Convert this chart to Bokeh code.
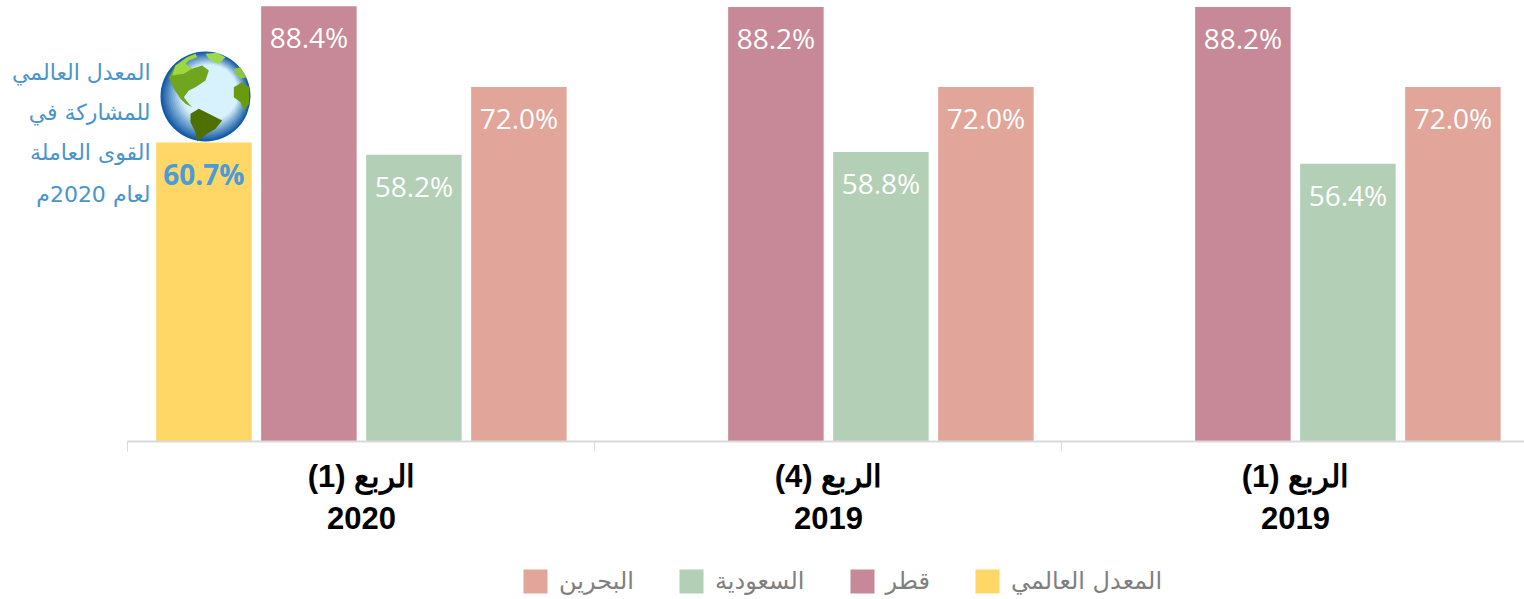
from bokeh.plotting import figure
from bokeh.embed import file_html
from bokeh.resources import INLINE
from bokeh.models import ColumnDataSource, Range1d, FixedTicker, Legend, LegendItem, Label
from bokeh.core.properties import value
from bokeh.transform import dodge
import numpy as np

quarters = ["الربع (1)\n2020", "الربع (4)\n2019", "الربع (1)\n2019"]
world = [60.7, float("nan"), float("nan")]
qatar = [88.4, 88.2, 88.2]
saudi = [58.2, 58.8, 56.4]
bahrain = [72.0, 72.0, 72.0]
names = ["المعدل العالمي", "قطر", "السعودية", "البحرين"]
colors = ["#FED766", "#C78897", "#B3CFB6", "#E2A59A"]
note = ["المعدل العالمي", "للمشاركة في", "القوى العاملة", "لعام 2020م"]

GROUP_PX = 467
PX_PER_UNIT = 4.925
p = figure(width=1524, height=599, output_backend="svg", toolbar_location=None,
           x_range=Range1d(-127.4 / GROUP_PX, (1524 - 127.4) / GROUP_PX),
           y_range=Range1d(-158 / PX_PER_UNIT, 441 / PX_PER_UNIT),
           min_border_left=0, min_border_right=0, min_border_top=0, min_border_bottom=0,
           outline_line_color=None, margin=0)
p.grid.visible = False
p.yaxis.visible = False
ax = p.xaxis[0]
ax.fixed_location = 0
ax.bounds = (0, 3)
ax.ticker = FixedTicker(ticks=[0.5, 1.5, 2.5], minor_ticks=[0, 1, 2, 3])
ax.major_label_overrides = {0.5: quarters[0], 1.5: quarters[1], 2.5: quarters[2]}
ax.major_tick_line_color = None
ax.minor_tick_line_color = "#D9D9D9"
ax.minor_tick_line_width = 1
ax.minor_tick_out = 10
ax.minor_tick_in = 0
ax.axis_line_color = "#D9D9D9"
ax.axis_line_width = 2
ax.major_label_text_font = "Liberation Sans"
ax.major_label_text_font_style = "bold"
ax.major_label_text_font_size = "31px"
ax.major_label_text_color = "#000000"
ax.major_label_standoff = 7

x_c = [0.5, 1.5, 2.5]
step = 105 / GROUP_PX
bw = 95.5 / GROUP_PX
rends = []
for i, (vals, col) in enumerate(zip([world, qatar, saudi, bahrain], colors)):
    labels = ["" if v != v else f"{v:.1f}%" for v in vals]
    src = ColumnDataSource(dict(x=x_c, v=vals, t=labels))
    off = (i - 1.5) * step
    r = p.vbar(x=dodge("x", off), top="v", bottom=0, width=bw, source=src,
               fill_color=col, line_color=None)
    rends.append(r)
    p.text(x=dodge("x", off), y="v", text="t", source=src, y_offset=31,
           text_align="center", text_baseline="middle",
           text_font=value("Open Sans"), text_font_size="28px",
           text_font_style="bold" if i == 0 else "normal",
           text_color="#4A9BD6" if i == 0 else "#FFFFFF")

order = [3, 2, 1, 0]
legend = Legend(items=[LegendItem(label=names[i], renderers=[rends[i]]) for i in order],
                orientation="horizontal", location=(520, 3),
                glyph_width=30, glyph_height=30, label_text_font="DejaVu Sans",
                label_text_font_size="24px", label_text_color="#7F7F7F",
                border_line_color=None, background_fill_alpha=0, spacing=42,
                label_standoff=9, padding=0, margin=0)
p.add_layout(legend)

# globe decoration, drawn in a pixel range
p.extra_x_ranges["px"] = Range1d(0, 1524)
p.extra_y_ranges["px"] = Range1d(599, 0)
cx, cy, R = 205.0, 96.0, 45.0
n = 24
c0 = np.array([20, 90, 165]); c1 = np.array([215, 242, 252])
for k in range(n):
    t = k / (n - 1)
    rr = R * (1 - t * 0.8)
    col = c0 + (c1 - c0) * min(1, t * 2.2)
    p.scatter([cx + 9 * t], [cy - 8 * t], size=2 * rr, marker="circle",
              fill_color="#%02x%02x%02x" % tuple(int(v) for v in col), line_color=None,
              x_range_name="px", y_range_name="px")
def land(points, color):
    xs = [a / 3 + 150 for a, b in points]
    ys = [b / 3 + 45 for a, b in points]
    p.patch(xs, ys, fill_color=color, line_color=None, x_range_name="px", y_range_name="px")
land([(55,95),(75,60),(110,35),(135,25),(140,35),(115,45),(105,55),(125,70),(155,60),(175,75),(165,105),
      (135,125),(115,135),(100,155),(115,175),(125,185),(105,175),(90,160),(70,130)], "#6FA51F")
land([(75,60),(110,35),(135,25),(140,35),(115,45),(105,55),(125,70),(100,85),(65,90)], "#9ED83F")
land([(165,25),(200,22),(225,35),(205,55),(190,50),(175,40)], "#9CD84A")
land([(120,205),(145,190),(175,205),(215,225),(195,250),(170,265),(140,288),(135,260),(120,230)], "#4F6F00")
land([(250,125),(275,110),(296,125),(296,175),(280,195),(270,170),(250,155)], "#6A9A10")
land([(250,70),(270,65),(288,95),(270,100),(255,85)], "#8CC63F")

label_y = [72, 112, 152, 194]
for s, y in zip(note, label_y):
    p.add_layout(Label(x=150, y=y, x_range_name="px", y_range_name="px", text=s,
                       text_align="right", text_baseline="middle", text_font="DejaVu Sans",
                       text_font_size="22px", text_color="#4A94CC"))

open("out.html", "w").write(file_html(p, INLINE))
